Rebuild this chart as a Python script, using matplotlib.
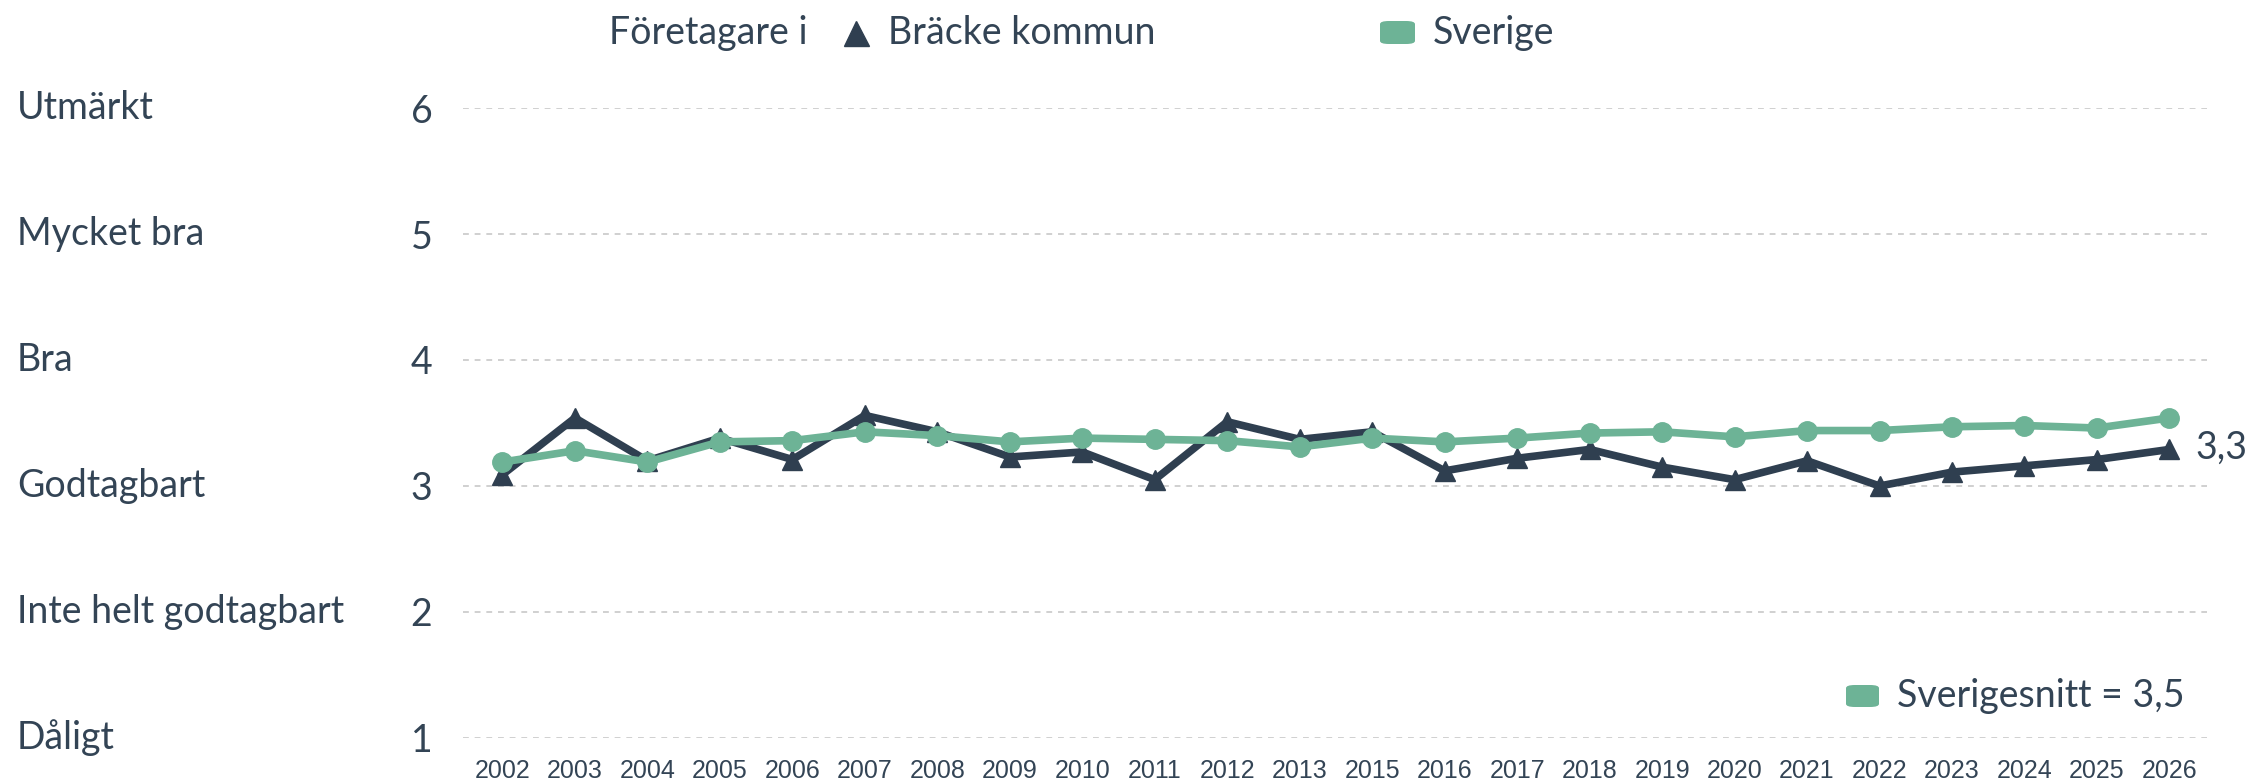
# Företagare i Bräcke kommun vs Sverige, line chart
import matplotlib
matplotlib.use('Agg')
import matplotlib.pyplot as plt
from matplotlib.patches import FancyBboxPatch
from matplotlib.lines import Line2D

years = ['2002', '2003', '2004', '2005', '2006', '2007', '2008', '2009', '2010', '2011', '2012', '2013',
         '2015', '2016', '2017', '2018', '2019', '2020', '2021', '2022', '2023', '2024', '2025', '2026']
bracke = [3.09, 3.54, 3.20, 3.38, 3.21, 3.56, 3.43, 3.23, 3.27, 3.05, 3.51, 3.37,
          3.43, 3.12, 3.22, 3.29, 3.15, 3.05, 3.20, 3.00, 3.11, 3.16, 3.21, 3.29]
sverige = [3.19, 3.28, 3.19, 3.35, 3.36, 3.43, 3.40, 3.35, 3.38, 3.37, 3.36, 3.31,
           3.38, 3.35, 3.38, 3.42, 3.43, 3.39, 3.44, 3.44, 3.47, 3.48, 3.46, 3.54]
scale_labels = ['Dåligt', 'Inte helt godtagbart', 'Godtagbart', 'Bra', 'Mycket bra', 'Utmärkt']
scale_values = [1, 2, 3, 4, 5, 6]
last_label = '3,3'
avg_label = 'Sverigesnitt = 3,5'

dark = '#2f3f50'
green = '#6db396'
textc = '#334455'
fs = 27

fig = plt.figure(figsize=(22.57, 7.81), dpi=100)
ax = fig.add_axes([0.2051, 0.0551, 0.7728, 0.8066])

x = list(range(len(years)))
ax.plot(x, bracke, color=dark, lw=5.5, marker='^', ms=15, zorder=3, clip_on=False)
ax.plot(x, sverige, color=green, lw=5.5, marker='o', ms=14, zorder=4, clip_on=False)

ax.set_xlim(-0.546, len(years) - 1 + 0.52)
ax.set_ylim(1, 6)
for v in scale_values:
    ax.axhline(v, color='#d0d0d0', lw=1.4, ls=(0, (3, 3)), zorder=1)

for s in ax.spines.values():
    s.set_visible(False)
ax.set_yticks(scale_values)
ax.set_yticklabels([str(v) for v in scale_values], fontsize=fs, color=textc, family='Lato')
ax.tick_params(axis='y', length=0, pad=22)
ax.set_xticks(x)
ax.set_xticklabels(years, fontsize=18, color=textc, family='Liberation Sans')
ax.tick_params(axis='x', length=0, pad=15)

# category names on the far left
for v, lab in zip(scale_values, scale_labels):
    ax.annotate(lab, xy=(0, v), xycoords=('figure fraction', 'data'), xytext=(17, 0),
                textcoords='offset pixels', ha='left', va='center', fontsize=fs,
                color=textc, family='Lato')

# last value label
ax.annotate(last_label, xy=(x[-1], bracke[-1]), xytext=(26, 2), textcoords='offset pixels',
            ha='left', va='center', fontsize=fs, color=textc, family='Lato')

# top legend
ly = 1 - 33 / 781
fig.text(609 / 2257, ly, 'Företagare i', ha='left', va='center', fontsize=fs,
         color=textc, family='Lato')
fig.add_artist(Line2D([856 / 2257], [ly], marker='^', ms=18, color=dark,
                      transform=fig.transFigure))
fig.text(888 / 2257, ly, 'Bräcke kommun', ha='left', va='center', fontsize=fs,
         color=textc, family='Lato')
fig.add_artist(FancyBboxPatch((1380 / 2257, 1 - 44 / 781), 35 / 2257, 23 / 781,
                              boxstyle='round,pad=0,rounding_size=0.004', fc=green, ec='none',
                              transform=fig.transFigure))
fig.text(1433 / 2257, ly, 'Sverige', ha='left', va='center', fontsize=fs,
         color=textc, family='Lato')

# bottom right average legend
fig.add_artist(FancyBboxPatch((1846 / 2257, 1 - 707 / 781), 33 / 2257, 22 / 781,
                              boxstyle='round,pad=0,rounding_size=0.004', fc=green, ec='none',
                              transform=fig.transFigure))
fig.text(1897 / 2257, 1 - 696 / 781, avg_label, ha='left', va='center', fontsize=fs,
         color=textc, family='Lato')

fig.savefig('out.png', dpi=100)
